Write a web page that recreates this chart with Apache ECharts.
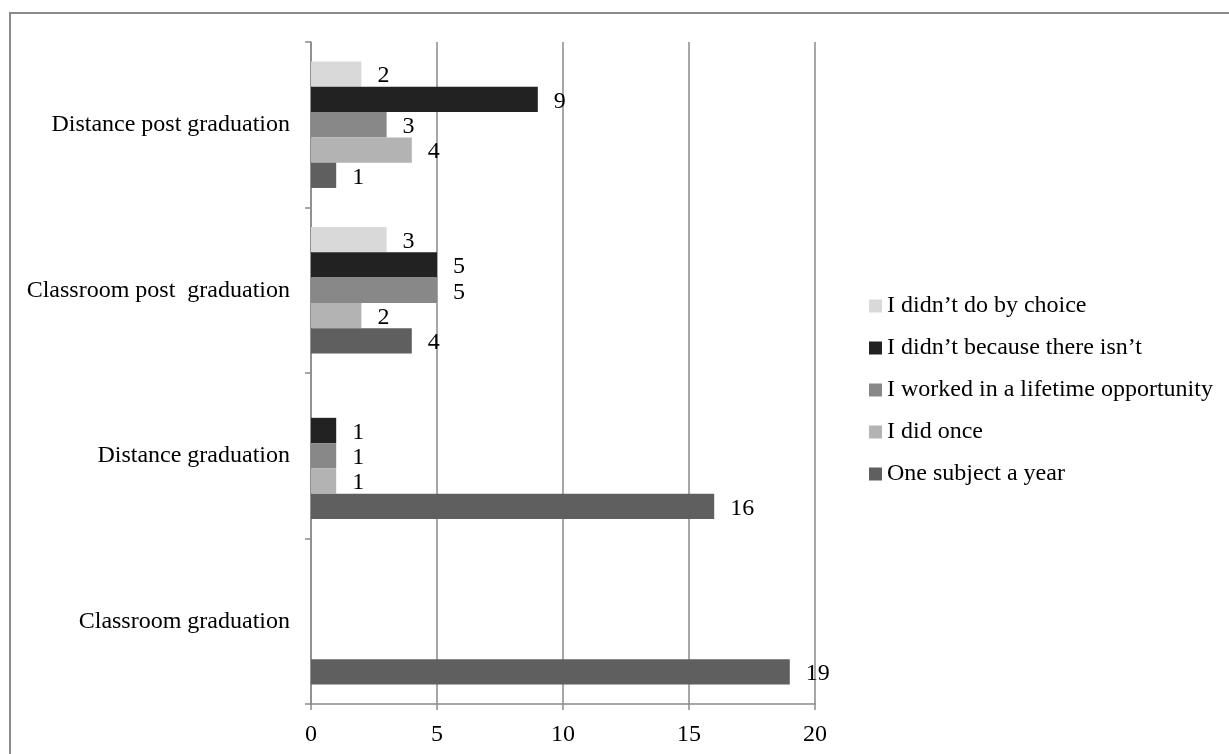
<!DOCTYPE html>
<html>
<head>
<meta charset="utf-8">
<title>Participation by course type</title>
<script src="https://cdn.jsdelivr.net/npm/echarts@6/dist/echarts.min.js"></script>
<style>
  html, body { margin: 0; padding: 0; background: #fff; }
  #frame {
    position: absolute; left: 9px; top: 12px; width: 1240px; height: 760px;
    border-left: 2px solid #8a8a8a; border-top: 2px solid #8a8a8a; box-sizing: border-box;
  }
  #chart { position: absolute; left: 0; top: 0; width: 1229px; height: 754px; }
</style>
</head>
<body>
<div id="frame"></div>
<div id="chart"></div>
<script>
// Course types, listed from the bottom of the axis upward
const categories = ['Classroom graduation', 'Distance graduation', 'Classroom post  graduation', 'Distance post graduation'];

// Answer counts per course type
const didntByChoice = [null, null, 3, 2];
const didntBecauseThereIsnt = [null, 1, 5, 9];
const workedLifetime = [null, 1, 5, 3];
const didOnce = [null, 1, 2, 4];
const oneSubjectAYear = [19, 16, 4, 1];

const xTicks = [0, 5, 10, 15, 20];

const FONT = '"Liberation Serif", "Times New Roman", serif';

// Listed top-to-bottom within each group of bars
const seriesDefs = [
  { name: 'I didn’t do by choice', data: didntByChoice, color: '#d9d9d9' },
  { name: 'I didn’t because there isn’t', data: didntBecauseThereIsnt, color: '#222222' },
  { name: 'I worked in a lifetime opportunity', data: workedLifetime, color: '#888888' },
  { name: 'I did once', data: didOnce, color: '#b3b3b3' },
  { name: 'One subject a year', data: oneSubjectAYear, color: '#5f5f5f' }
];

const chart = echarts.init(document.getElementById('chart'), null, { renderer: 'canvas' });

chart.setOption({
  animation: false,
  backgroundColor: 'transparent',
  textStyle: { fontFamily: FONT, color: '#000' },
  grid: { left: 311, right: 414, top: 42, bottom: 50, containLabel: false },
  legend: {
    orient: 'vertical',
    left: 864,
    top: 289,
    itemWidth: 13,
    itemHeight: 13,
    itemGap: 18,
    icon: 'rect',
    data: seriesDefs.map(s => s.name),
    textStyle: { fontFamily: FONT, fontSize: 24, color: '#000', padding: [0, 0, 0, 0] }
  },
  xAxis: {
    type: 'value',
    min: xTicks[0],
    max: xTicks[xTicks.length - 1],
    interval: xTicks[1] - xTicks[0],
    axisLine: { show: true, onZero: false, lineStyle: { color: '#8a8a8a', width: 1.5 } },
    axisTick: { show: true, length: 6, lineStyle: { color: '#8a8a8a', width: 1.5 } },
    axisLabel: { fontFamily: FONT, fontSize: 24, color: '#000', margin: 19 },
    splitLine: { show: true, lineStyle: { color: '#8a8a8a', width: 1.5 } }
  },
  yAxis: {
    type: 'category',
    data: categories,
    axisLine: { show: true, onZero: false, lineStyle: { color: '#8a8a8a', width: 1.5 } },
    axisTick: { show: true, length: 6, lineStyle: { color: '#8a8a8a', width: 1.5 } },
    axisLabel: { fontFamily: FONT, fontSize: 24, color: '#000', margin: 21 },
    splitLine: { show: false }
  },
  series: seriesDefs.map(s => ({
    name: s.name,
    type: 'bar',
    data: s.data,
    barGap: '0%',
    barCategoryGap: '23.6%',
    itemStyle: { color: s.color },
    label: {
      show: true,
      position: 'right',
      distance: 16,
      offset: [0, 2],
      fontFamily: FONT,
      fontSize: 24,
      color: '#000'
    }
  }))
});
</script>
</body>
</html>
